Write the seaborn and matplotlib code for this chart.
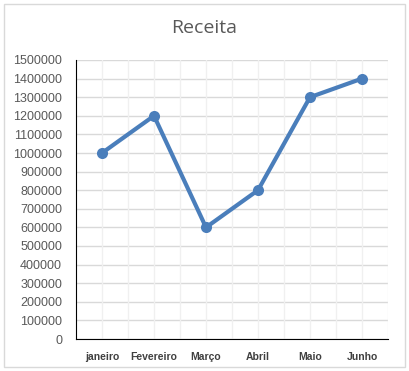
import matplotlib
matplotlib.use("Agg")
import matplotlib.pyplot as plt
import seaborn as sns
import pandas as pd
from matplotlib.patches import Rectangle

months = ["janeiro", "Fevereiro", "Março", "Abril", "Maio", "Junho"]
receita = [1000000, 1200000, 600000, 800000, 1300000, 1400000]
yticks = list(range(0, 1500001, 100000))

df = pd.DataFrame({"mes": months, "receita": receita, "pos": range(len(months))})

sns.set_style("white")
plt.rcParams["font.family"] = ["Liberation Sans", "DejaVu Sans"]

fig = plt.figure(figsize=(4.10, 3.71), dpi=100)
ax = fig.add_axes([76/410, 1-339/371, (388-76)/410, (339-60)/371])

# gridlines
for v in yticks:
    ax.axhline(v, color="#d9d9d9", lw=1, zorder=0)
for i in range(1, len(months)*2+1):
    ax.axvline(-0.5 + i*0.5, color="#f0f0f0", lw=1, zorder=0)

sns.lineplot(data=df, x="pos", y="receita", ax=ax, color="#4a7ebb", lw=3,
             marker="o", markersize=8, markeredgewidth=0, zorder=3)

ax.set_xlim(-0.5, 5.5)
ax.set_ylim(0, 1500000)
ax.set_yticks(yticks)
ax.set_yticklabels([str(v) for v in yticks], fontsize=9, color="#595959")
ax.set_xticks(range(len(months)))
ax.set_xticklabels(months, fontsize=7.5, color="#404040", fontweight="bold")
ax.tick_params(axis="both", length=0)
ax.tick_params(axis="y", pad=10)
ax.tick_params(axis="x", pad=9)
ax.set_xlabel("")
ax.set_ylabel("")
for s in ["top", "right"]:
    ax.spines[s].set_visible(False)
ax.spines["left"].set_color("black")
ax.spines["bottom"].set_color("black")

fig.text(204/410, 1-28/371, "Receita", ha="center", va="center", fontsize=14,
         color="#595959", family=["Open Sans", "DejaVu Sans"])
fig.patches.append(Rectangle((4/410, 4/371), 401/410, 363/371, transform=fig.transFigure,
                             fill=False, edgecolor="#d9d9d9", lw=1))

fig.savefig("out.png", dpi=100)
